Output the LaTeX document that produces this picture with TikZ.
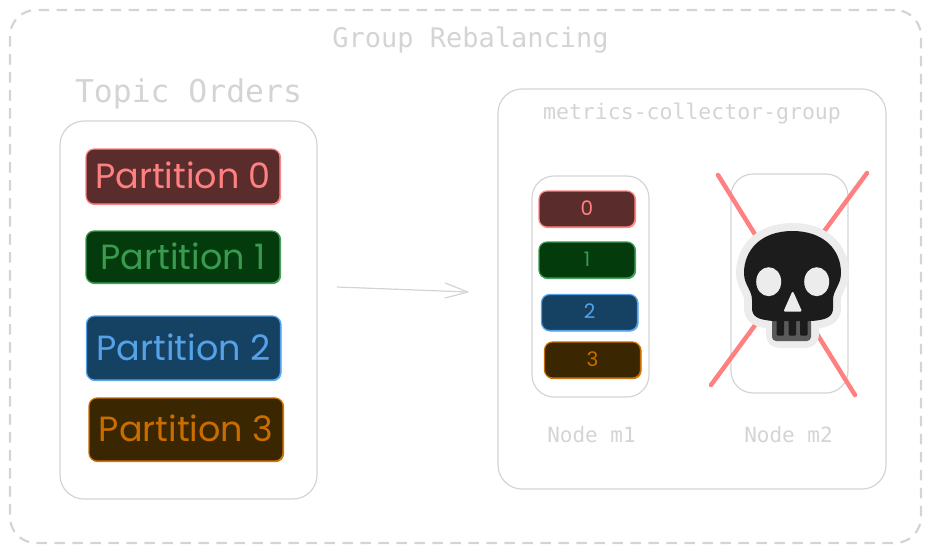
\documentclass[tikz,border=0pt]{standalone}
\usepackage{fontspec}
\setmainfont{Poppins}
\setmonofont{DejaVu Sans Mono}
\definecolor{linegray}{HTML}{D4D4D4}
\definecolor{redline}{HTML}{FF8080}
\definecolor{redfill}{HTML}{5B2C2C}
\definecolor{greenline}{HTML}{3A9A50}
\definecolor{greenfill}{HTML}{043B0C}
\definecolor{blueline}{HTML}{56A2E8}
\definecolor{bluefill}{HTML}{154163}
\definecolor{orangeline}{HTML}{C96D00}
\definecolor{orangefill}{HTML}{3A2600}
\definecolor{halo}{HTML}{ECECEC}
\definecolor{skullblack}{HTML}{1C1C1C}
\definecolor{teethgray}{HTML}{5A5A5A}
\tikzset{
  sketchbox/.style={draw=linegray,line width=1.2pt,inner sep=0pt,rounded corners=#1},
  sketchbox/.default=24pt,
  partbox/.style 2 args={draw=#1,fill=#2,text=#1,line width=1.2pt,rounded corners=8pt,inner sep=0pt,
    preaction={draw=#1,line width=.8pt,transform canvas={shift={(.7pt,-.7pt)}}}},
  redpart/.style={partbox={redline}{redfill}},
  greenpart/.style={partbox={greenline}{greenfill}},
  bluepart/.style={partbox={blueline}{bluefill}},
  orangepart/.style={partbox={orangeline}{orangefill}},
  bigpart/.style={font=\fontsize{35}{35}\selectfont,minimum width=194pt},
  smallpart/.style={font=\fontsize{20}{20}\selectfont,minimum width=96pt,minimum height=36pt},
  greylabel/.style={text=linegray,inner sep=0pt,font=\ttfamily\fontsize{#1}{#1}\selectfont},
}
\newcommand{\liftup}[1]{\raisebox{2pt}{#1}}
\begin{document}
\begin{tikzpicture}[x=1pt,y=-1pt]
\useasboundingbox (0,0) rectangle (931,552);
\node[sketchbox=26pt,dashed,dash pattern=on 10.5pt off 7.5pt,line width=2.2pt,minimum width=911pt,minimum height=533pt] (groupframe) at (465.5,276.5) {};
\node[greylabel=27] (grouptitle) at (470.5,40) {Group Rebalancing};
\node[greylabel=31.4] (topictitle) at (188.5,93.5) {Topic Orders};
\node[sketchbox,minimum width=257pt,minimum height=378pt] (topicbox) at (188.5,310) {};
\node[redpart,bigpart,minimum height=55pt] (bigzero) at (183,176.5) {\liftup{Partition 0}};
\node[greenpart,bigpart,minimum height=52pt] (bigone) at (183,257) {\liftup{Partition 1}};
\node[bluepart,bigpart,minimum height=64pt] (bigtwo) at (183.5,348) {\liftup{Partition 2}};
\node[orangepart,bigpart,minimum height=63pt] (bigthree) at (186,429.5) {\liftup{Partition 3}};
\coordinate (arrowstart) at (337,287);
\coordinate (arrowend) at (468,292);
\draw[linegray,line width=1.2pt] (arrowstart) -- (arrowend);
\draw[linegray,line width=1.2pt,line cap=round,line join=round] (445,283) -- (arrowend) -- (445,298);
\node[sketchbox,minimum width=388pt,minimum height=400pt] (metricsbox) at (692,289) {};
\node[greylabel=21.5] (metricstitle) at (692,114) {metrics-collector-group};
\node[sketchbox=22pt,minimum width=117pt,minimum height=221pt] (nodeone) at (590.5,286.5) {};
\node[sketchbox=22pt,minimum width=117pt,minimum height=219pt] (nodetwo) at (789.5,283.5) {};
\node[redpart,smallpart] (smallzero) at (587,209) {\liftup{0}};
\node[greenpart,smallpart] (smallone) at (587,260) {\liftup{1}};
\node[bluepart,smallpart] (smalltwo) at (589.5,312.5) {\liftup{2}};
\node[orangepart,smallpart] (smallthree) at (592.5,360) {\liftup{3}};
\node[greylabel=21] (nodeonelabel) at (591.5,435) {Node m1};
\node[greylabel=21] (nodetwolabel) at (788.5,435) {Node m2};
\coordinate (crossa) at (718,175);
\coordinate (crossb) at (855,395);
\coordinate (crossc) at (867,173);
\coordinate (crossd) at (711,385);
\draw[redline,line width=4.5pt,line cap=round] (crossa) -- (crossb);
\draw[redline,line width=4.5pt,line cap=round] (crossc) -- (crossd);
% skull
\path[fill=halo,draw=halo,line width=16pt,line join=round] (792.5,231) .. controls (824,231) and (841,250) .. (841,273) .. controls (841,285) and (833,290) .. (833,300) -- (833,308) .. controls (833,316) and (828,320) .. (811,321) -- (811,334) .. controls (811,338) and (809,340) .. (806,340) -- (779,340) .. controls (776,340) and (774,338) .. (774,334) -- (774,321) .. controls (757,320) and (752,316) .. (752,308) -- (752,300) .. controls (752,290) and (744,285) .. (744,273) .. controls (744,250) and (761,231) .. (792.5,231) -- cycle;
\fill[teethgray,rounded corners=4pt] (772,318) rectangle (811,341);
\fill[skullblack] (792.5,231) .. controls (824,231) and (841,250) .. (841,273) .. controls (841,285) and (833,290) .. (833,300) -- (833,308) .. controls (833,316) and (828,320) .. (811,321) -- (774,321) .. controls (757,320) and (752,316) .. (752,308) -- (752,300) .. controls (752,290) and (744,285) .. (744,273) .. controls (744,250) and (761,231) .. (792.5,231) -- cycle;
\foreach \toothx in {776.5,788.5,800}
  \fill[skullblack,rounded corners=1pt] (\toothx,320) rectangle ++(7.5,15.5);
\fill[halo] (768.7,281.7) ellipse [x radius=12.5,y radius=14.5];
\fill[halo] (816.7,281.7) ellipse [x radius=12.5,y radius=14.5];
\fill[halo,draw=halo,line width=2pt,line join=round] (792.7,293) -- (785,310.5) -- (800.5,310.5) -- cycle;
\end{tikzpicture}
\end{document}
